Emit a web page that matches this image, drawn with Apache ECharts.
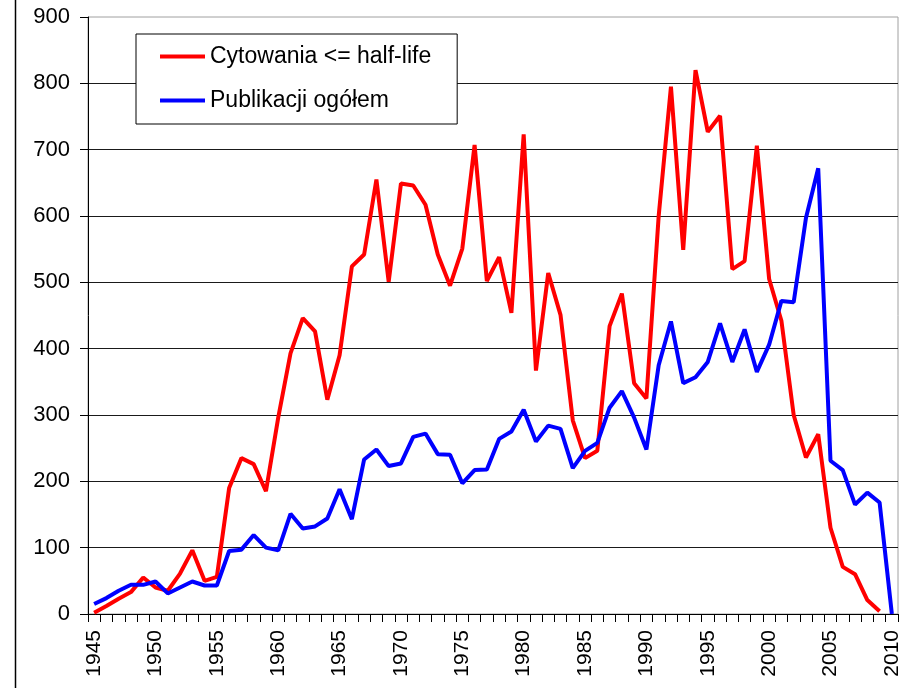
<!DOCTYPE html>
<html>
<head>
<meta charset="utf-8">
<script src="https://cdn.jsdelivr.net/npm/echarts@6/dist/echarts.min.js"></script>
<style>
  html, body { margin: 0; padding: 0; background: #fff; }
  #chart { width: 908px; height: 688px; }
</style>
</head>
<body>
<div id="chart"></div>
<script>
const years = []
for (let y = 1945; y <= 2010; y += 1) years.push(String(y))

const CYT = 'Cytowania <= half-life'
const PUB = 'Publikacji ogółem'

const cytowania = [
  2, 12, 23, 33, 55, 40, 35, 61, 96, 50,
  56, 190, 235, 226, 185, 296, 393, 446, 426, 323,
  390, 524, 542, 655, 501, 649, 646, 617, 542, 495,
  551, 707, 502, 538, 454, 723, 367, 514, 451, 292,
  235, 246, 434, 483, 348, 325, 600, 795, 549, 820,
  727, 751, 520, 532, 706, 505, 442, 300, 236, 271,
  130, 71, 60, 21, 4, null,
]

const publikacje = [
  15, 24, 35, 44, 44, 49, 31, 40, 49, 43,
  43, 95, 97, 119, 100, 96, 151, 129, 132, 144,
  188, 143, 233, 248, 223, 227, 267, 272, 241, 240,
  197, 217, 218, 264, 275, 308, 260, 284, 279, 220,
  246, 258, 311, 336, 296, 248, 375, 441, 348, 357,
  380, 438, 380, 429, 365, 406, 472, 470, 597, 672,
  231, 217, 165, 183, 168, 0,
]

const yTicks = { min: 0, max: 900, interval: 100 }

const FONT = '"Liberation Sans", Arial, sans-serif'

const lineBase = {
  type: 'line',
  showSymbol: false,
  symbol: 'none',
  lineStyle: { width: 4 },
  connectNulls: false,
  animation: false,
}

const chart = echarts.init(document.getElementById('chart'))
chart.setOption({
  backgroundColor: '#fff',
  animation: false,
  textStyle: { fontFamily: FONT, color: '#000' },
  color: ['#ff0000', '#0000ff'],
  grid: {
    left: 88,
    right: 10,
    top: 17,
    bottom: 74,
    show: true,
    borderColor: '#a0a0a0',
    borderWidth: 1,
    backgroundColor: 'transparent',
  },
  legend: {
    orient: 'vertical',
    left: 136,
    top: 34,
    data: [CYT, PUB],
    icon: 'rect',
    itemWidth: 45,
    itemHeight: 4,
    itemGap: 21,
    itemTextGap: 5,
    padding: [11, 26, 12, 24],
    backgroundColor: '#fff',
    borderColor: '#000',
    borderWidth: 1,
    borderRadius: 0,
    textStyle: { fontFamily: FONT, fontSize: 23, color: '#000', lineHeight: 23 },
  },
  xAxis: {
    type: 'category',
    data: years,
    boundaryGap: true,
    axisLine: { lineStyle: { color: '#000', width: 1 } },
    axisTick: { show: true, interval: 0, length: 8, lineStyle: { color: '#000' } },
    axisLabel: {
      interval: 4,
      rotate: 90,
      margin: 16,
      fontFamily: FONT,
      fontSize: 21,
      color: '#000',
    },
    splitLine: { show: false },
  },
  yAxis: {
    type: 'value',
    min: yTicks.min,
    max: yTicks.max,
    interval: yTicks.interval,
    axisLine: { show: true, lineStyle: { color: '#000', width: 1 } },
    axisTick: { show: true, length: 8, lineStyle: { color: '#000' } },
    axisLabel: { margin: 18, fontFamily: FONT, fontSize: 22, color: '#000' },
    splitLine: { show: true, showMaxLine: false, lineStyle: { color: '#1a1a1a', width: 1 } },
  },
  graphic: [
    {
      type: 'line',
      shape: { x1: 15.5, y1: 0, x2: 15.5, y2: 688 },
      style: { stroke: '#000', lineWidth: 1.5 },
    },
  ],
  series: [
    { name: CYT, data: cytowania, ...lineBase },
    { name: PUB, data: publikacje, ...lineBase },
  ],
})
</script>
</body>
</html>
